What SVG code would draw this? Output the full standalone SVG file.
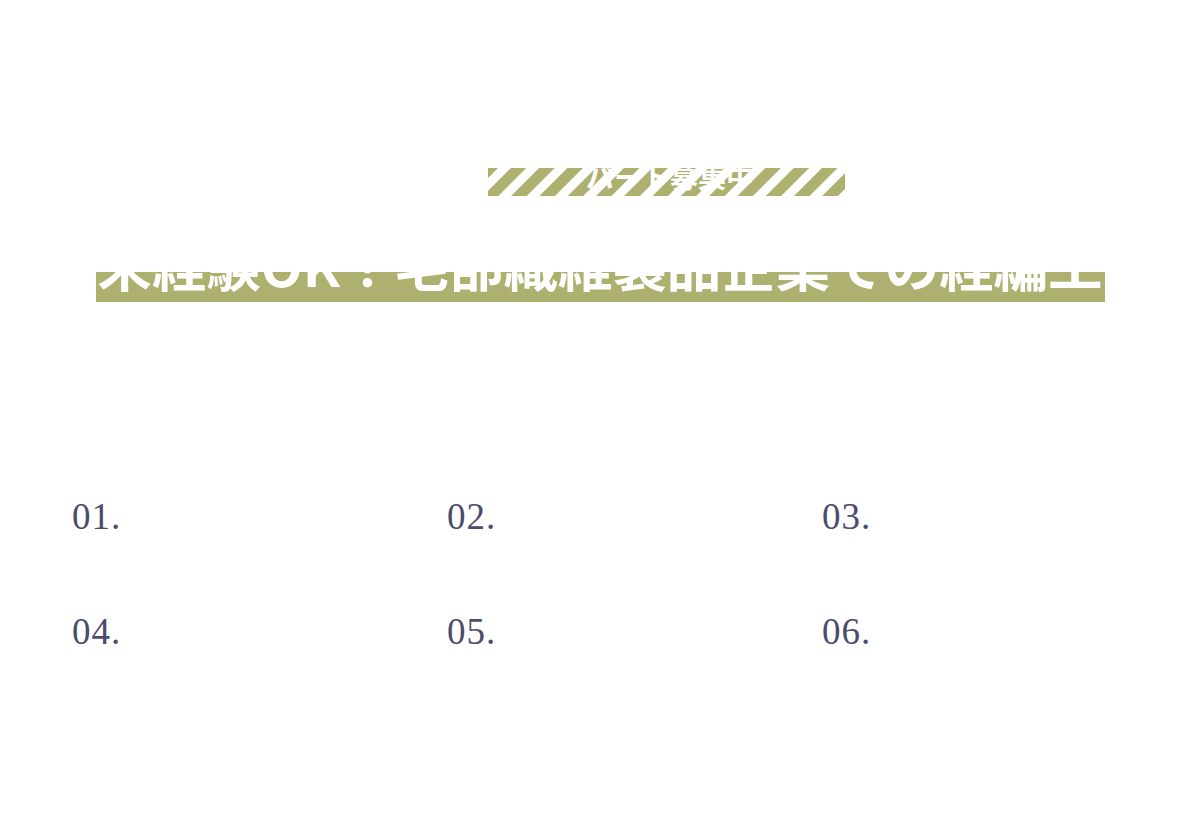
<svg xmlns="http://www.w3.org/2000/svg" width="1200" height="833" viewBox="0 0 1200 833">
<defs>
<pattern id="st" patternUnits="userSpaceOnUse" width="20" height="20" patternTransform="rotate(45)">
<rect width="20" height="20" fill="#fff"/><rect width="11" height="20" fill="#adb06e"/>
</pattern>
<style>
.n{font-family:"Liberation Serif",serif;font-size:37px;fill:#4b4c6b;letter-spacing:1px}
.w{font-family:"Noto Sans CJK JP",sans-serif;fill:#fff;font-weight:bold}
</style>
</defs>
<rect width="1200" height="833" fill="#fff"/>
<g id="tag">
<rect x="488" y="168" width="357" height="28" fill="url(#st)"/>
<text class="w" x="670" y="188" font-size="28" text-anchor="middle">パート募集中</text>
</g>
<g id="title">
<rect x="96" y="272" width="1009" height="30" fill="#adb06e"/>
<text class="w" x="600" y="287" font-size="52" text-anchor="middle" textLength="1005" lengthAdjust="spacingAndGlyphs">未経験OK！毛部織維製品企業での経編工</text>
</g>
<g id="items">
<text class="n" x="72" y="529">01.</text>
<text class="n" x="447" y="529">02.</text>
<text class="n" x="822" y="529">03.</text>
<text class="n" x="72" y="644">04.</text>
<text class="n" x="447" y="644">05.</text>
<text class="n" x="822" y="644">06.</text>
</g>
<g id="connectors"></g>
</svg>
